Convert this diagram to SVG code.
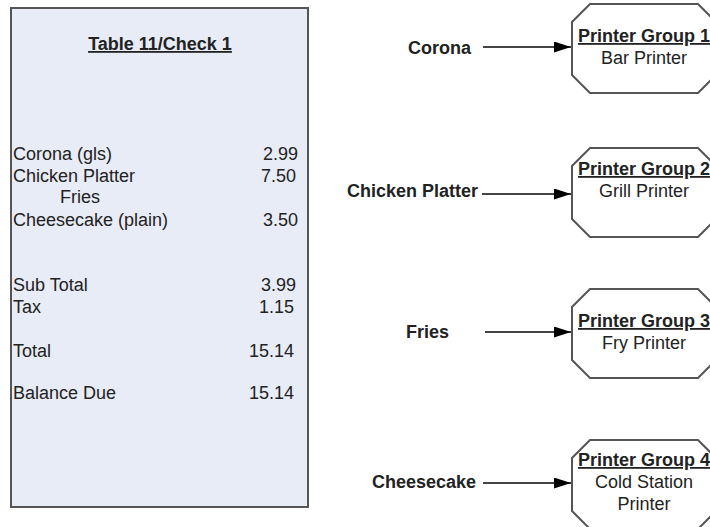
<svg xmlns="http://www.w3.org/2000/svg" width="710" height="527" viewBox="0 0 710 527">
<defs>
<style>
text{font-family:"Liberation Sans",Arial,sans-serif;font-size:18px;fill:#222}
.b{font-weight:bold}
.u{text-decoration:underline}
.c{text-anchor:middle}
.r{text-anchor:end}
.oct{fill:#fff;stroke:#555;stroke-width:2}
.conn line{stroke:#444;stroke-width:2}
</style>
<marker id="ah" markerWidth="17" markerHeight="11" refX="17" refY="5.5" orient="auto" markerUnits="userSpaceOnUse">
<path d="M0,0 L17,5.5 L0,11 Z" fill="#000"/>
</marker>
</defs>
<g id="receipt">
<rect x="11" y="8" width="297" height="499" fill="#E8ECF6" stroke="#555" stroke-width="2"/>
<text x="160" y="50" class="b u c">Table 11/Check 1</text>
<text x="13" y="160">Corona (gls)</text><text x="298" y="160" class="r">2.99</text>
<text x="13" y="182">Chicken Platter</text><text x="296" y="182" class="r">7.50</text>
<text x="60" y="203">Fries</text>
<text x="13" y="226">Cheesecake (plain)</text><text x="298" y="226" class="r">3.50</text>
<text x="13" y="291">Sub Total</text><text x="296" y="291" class="r">3.99</text>
<text x="13" y="313">Tax</text><text x="294" y="313" class="r">1.15</text>
<text x="13" y="357">Total</text><text x="294" y="357" class="r">15.14</text>
<text x="13" y="399">Balance Due</text><text x="294" y="399" class="r">15.14</text>
</g>
<g id="lbl-corona"><text x="408" y="54" class="b">Corona</text></g>
<g id="lbl-chicken"><text x="347" y="197" class="b">Chicken Platter</text></g>
<g id="lbl-fries"><text x="406" y="338" class="b">Fries</text></g>
<g id="lbl-cheesecake"><text x="372" y="488" class="b">Cheesecake</text></g>
<g id="pg1">
<polygon class="oct" points="590,4 698,4 716,22 716,75 698,93 590,93 572,75 572,22"/>
<text x="644" y="42" class="b u c">Printer Group 1</text>
<text x="644" y="64" class="c">Bar Printer</text>
</g>
<g id="pg2">
<polygon class="oct" points="590,148 698,148 716,166 716,219 698,237 590,237 572,219 572,166"/>
<text x="644" y="175" class="b u c">Printer Group 2</text>
<text x="644" y="197" class="c">Grill Printer</text>
</g>
<g id="pg3">
<polygon class="oct" points="590,289 698,289 716,307 716,360 698,378 590,378 572,360 572,307"/>
<text x="644" y="327" class="b u c">Printer Group 3</text>
<text x="644" y="349" class="c">Fry Printer</text>
</g>
<g id="pg4">
<polygon class="oct" points="590,440 698,440 716,458 716,511 698,529 590,529 572,511 572,458"/>
<text x="644" y="466" class="b u c">Printer Group 4</text>
<text x="644" y="488" class="c">Cold Station</text>
<text x="644" y="510" class="c">Printer</text>
</g>
<g class="conn" id="connectors">
<line x1="483" y1="47" x2="571" y2="47" marker-end="url(#ah)"/>
<line x1="482" y1="194" x2="571" y2="194" marker-end="url(#ah)"/>
<line x1="485" y1="332" x2="571" y2="332" marker-end="url(#ah)"/>
<line x1="483" y1="483" x2="571" y2="483" marker-end="url(#ah)"/>
</g>
</svg>
